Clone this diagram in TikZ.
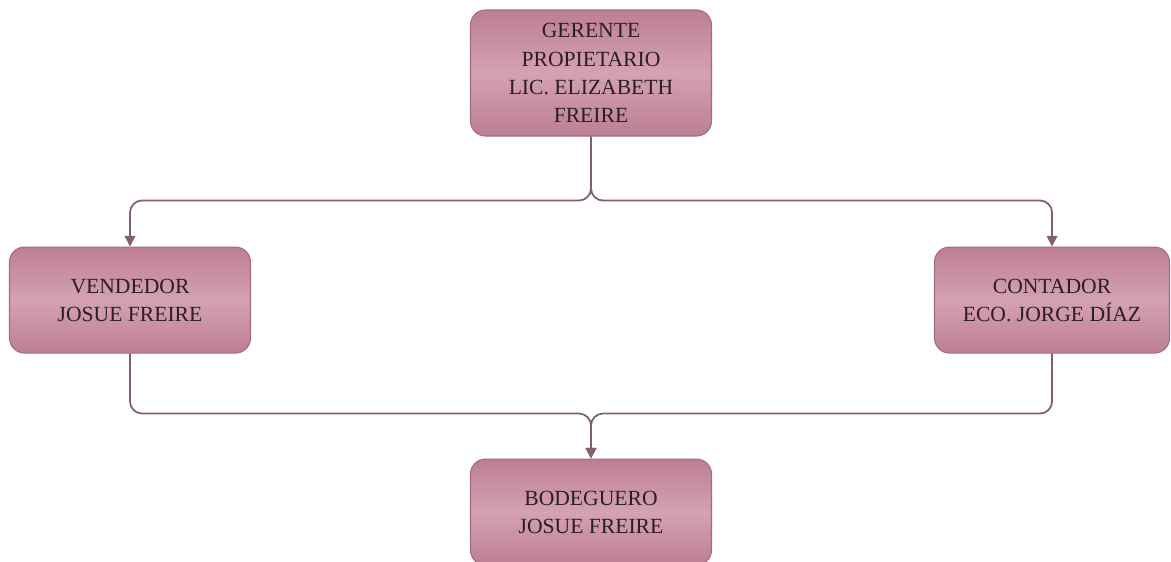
\documentclass[tikz,border=0pt]{standalone}
\usepackage{fontspec}
\setmainfont{Liberation Serif}
\usetikzlibrary{positioning,arrows.meta,calc}

\definecolor{boxedge}{HTML}{BD7E92}
\definecolor{boxmid}{HTML}{D4A2B2}
\definecolor{boxline}{HTML}{A46A7E}
\definecolor{connline}{HTML}{7F6171}
\definecolor{boxtext}{HTML}{2B1F24}

\begin{document}
\begin{tikzpicture}[
    cargo/.style={draw=boxline, line width=0.6pt, rounded corners=0.3cm,
      top color=boxedge, bottom color=boxedge, middle color=boxmid,
      minimum width=4.82cm, minimum height=2.12cm, align=center,
      text=boxtext, font=\fontsize{12.3}{16}\selectfont, inner sep=2pt},
    conn/.style={draw=connline, line width=1pt, rounded corners=0.24cm},
    flecha/.style={-{Triangle[length=6pt, width=6pt]}}
  ]

  % frame
  \useasboundingbox (0,0) rectangle (23.42,-11.22);
  \clip (0,0) rectangle (23.42,-11.22);

  % Gerente
  \node[cargo, minimum height=2.52cm] (ger) at (11.82,-1.46)
    {GERENTE\\PROPIETARIO\\LIC. ELIZABETH\\FREIRE}; %

  % Vendedor y Contador
  \node[cargo, below=2.2cm of ger, xshift=-9.22cm] (vend)
    {VENDEDOR\\JOSUE FREIRE}; %
  \node[cargo, below=2.2cm of ger, xshift=9.22cm, minimum width=4.7cm] (cont)
    {CONTADOR\\ECO. JORGE DÍAZ}; %

  % Bodeguero
  \node[cargo, below=6.44cm of ger] (bod)
    {BODEGUERO\\JOSUE FREIRE}; %

  % fork points
  \coordinate (arriba) at ($(ger.south)+(0,-1.28)$);
  \coordinate (abajo)  at ($(bod.north)+(0,0.9)$);

  % connectors
  \draw[conn, flecha] (ger.south) -- (ger.south |- arriba) -| (vend.north);
  \draw[conn, flecha] (ger.south) -- (ger.south |- arriba) -| (cont.north);
  \draw[conn, flecha] (vend.south) |- (abajo) -- (bod.north);
  \draw[conn, flecha] (cont.south) |- (abajo) -- (bod.north);

\end{tikzpicture}
\end{document}
